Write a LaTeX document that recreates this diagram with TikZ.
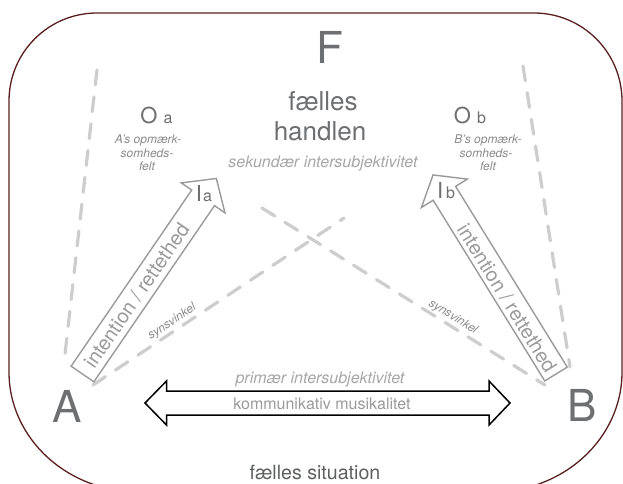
\documentclass[tikz,border=0pt]{standalone}
\usepackage{fontspec}
\setmainfont{TeX Gyre Heros}
\definecolor{rimcol}{HTML}{5A1E1E}
\definecolor{dkgray}{HTML}{6E6F71}
\definecolor{sitgray}{HTML}{5E5F60}
\definecolor{midgray}{HTML}{9A9A9A}
\definecolor{ltgray}{HTML}{A6A6A6}
\definecolor{dashgray}{HTML}{CDCDCD}
\definecolor{notegray}{HTML}{8A8A8A}
\newcommand{\fs}[1]{\fontsize{#1}{#1}\selectfont}
\begin{document}
\begin{tikzpicture}[x=1pt,y=-1pt,
  sight/.style={draw=dashgray, line width=3.2pt, dash pattern=on 15pt off 12pt, line cap=round},
  hollow/.style={draw=midgray, line width=1.4pt, line join=miter},
  dblarrow/.style={draw=black, line width=1.5pt, line join=miter},
  lbl/.style={inner sep=0pt, anchor=base},
  bigletter/.style={lbl, text=dkgray, font=\fs{44}},
  note/.style={lbl, text=notegray, font=\fs{12}\itshape},
  subj/.style={lbl, text=ltgray, font=\fs{16}\itshape},
  arrowtext/.style={inner sep=0pt, text=midgray, font=\fs{20}},
  sightlbl/.style={inner sep=0pt, text=notegray, font=\fs{12}\itshape}
]
\useasboundingbox (0,0) rectangle (623,483);
\clip (0,0) rectangle (623,483);

% frame: fælles situation
\draw[rimcol, line width=1.3pt]
  (9,101) .. controls (9,52.4) and (48.4,13) .. (97,13)
  -- (534,13) .. controls (582.6,13) and (622,52.4) .. (622,101)
  -- (622,372) .. controls (622,438.3) and (563.8,492) .. (492,492)
  -- (139,492) .. controls (67.2,492) and (9,438.3) .. (9,372) -- cycle;

% coordinates of sight lines
\coordinate (la1) at (97,70);
\coordinate (la2) at (64,363);
\coordinate (lb1) at (523,66);
\coordinate (lb2) at (570,367);
\coordinate (sa1) at (93,385);
\coordinate (sa2) at (344,218);
\coordinate (sb1) at (262,208);
\coordinate (sb2) at (545,385);

\draw[sight] (la1) -- (la2);
\draw[sight] (lb1) -- (lb2);
\draw[sight] (sa1) -- (sa2);
\draw[sight] (sb1) -- (sb2);

% intention arrows
\begin{scope}[shift={(82.5,374)}, rotate=55.6]
  \draw[hollow] (0,13.8) -- (213.5,13.8) -- (213.5,26.5) -- (237,0)
    -- (213.5,-26.5) -- (213.5,-13.8) -- (0,-13.8) -- cycle;
\end{scope}
\begin{scope}[shift={(556,374)}, rotate=121.7]
  \draw[hollow] (0,13.2) -- (212.4,13.2) -- (212.4,27) -- (234,0)
    -- (212.4,-27) -- (212.4,-13.2) -- (0,-13.2) -- cycle;
\end{scope}
\node[arrowtext, rotate=55.6] (inta) at (136.5,295.5) {intention / rettethed};
\node[arrowtext, rotate=-58.3] (intb) at (507,298) {intention / rettethed};

% double arrow
\draw[dblarrow] (145,403) -- (166.5,381) -- (166.5,391) -- (489,391) -- (489,381)
  -- (510,403) -- (489,425) -- (489,415) -- (166.5,415) -- (166.5,425) -- cycle;

% texts
\node[bigletter] (F) at (330,63) {F};
\node[bigletter] (A) at (67,422) {A};
\node[bigletter] (B) at (582,421) {B};
\node[lbl, text=dkgray, font=\fs{26}] (faelles) at (323,110) {fælles};
\node[lbl, text=dkgray, font=\fs{26}] (handlen) at (320,140) {handlen};
\node[subj] (sek) at (323,167) {sekundær intersubjektivitet};
\node[subj] (prim) at (320,383) {primær intersubjektivitet};
\node[lbl, text=midgray, font=\fs{16}] (komm) at (322,409) {kommunikativ musikalitet};
\node[lbl, text=sitgray, font=\fs{19.6}] (sit) at (315,479) {fælles situation};

\node[lbl, text=dkgray, font=\fs{22}] (Oa) at (156.5,123) {O {\fs{16}a}};
\node[lbl, text=dkgray, font=\fs{22}] (Ob) at (470,123) {O {\fs{16}b}};
\node[note] (oa1) at (148,143.5) {A’s opmærk-};
\node[note] (oa2) at (147,157) {somheds-};
\node[note] (oa3) at (147,170.5) {felt};
\node[note] (ob1) at (488,143.5) {B’s opmærk-};
\node[note] (ob2) at (486,157) {somheds-};
\node[note] (ob3) at (488,170.5) {felt};

\node[lbl, text=dkgray, font=\fs{22}] (Ia) at (204,201.7) {I\kern1pt{\fs{16}a}};
\node[lbl, text=dkgray, font=\fs{22}] (Ib) at (446,198.3) {I\kern3pt{\fs{16}b}};

\node[sightlbl, rotate=33.6] (sva) at (172,322) {synsvinkel};
\node[sightlbl, rotate=-32] (svb) at (453,317) {synsvinkel};
\end{tikzpicture}
\end{document}
